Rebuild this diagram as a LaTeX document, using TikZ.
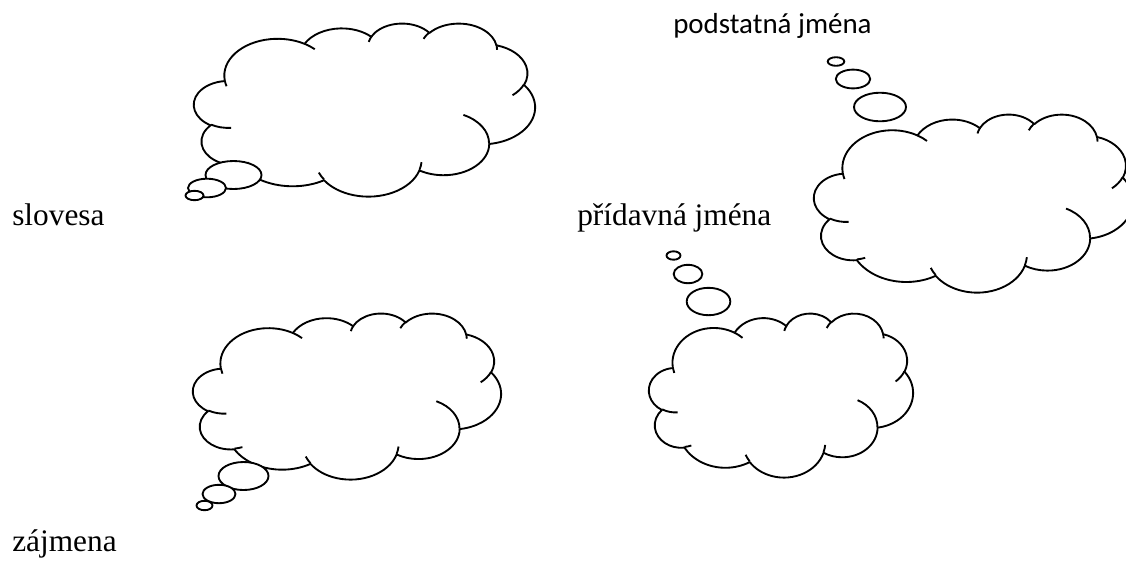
\documentclass[tikz,border=0pt]{standalone}
\usepackage{fontspec}
\setmainfont{Liberation Serif}
\newfontfamily\cabfont{Carlito}
% visual angle -> parametric angle for an elliptical arc
\newcommand\cldcalc[4]{%
  \pgfmathsetmacro\cldTa{atan2((#1)*sin(#3),(#2)*cos(#3))}%
  \pgfmathsetmacro\cldTb{atan2((#1)*sin((#3)+(#4)),(#2)*cos((#3)+(#4)))}%
  \pgfmathsetmacro\cldTd{mod(\cldTb-\cldTa+720,360)}%
  \global\let\cldS\cldTa\global\let\cldD\cldTd}
\newcommand\cldarc[4]{\pgfextra{\cldcalc{#1}{#2}{#3}{#4}} arc[x radius=#1, y radius=#2, start angle=\cldS, delta angle=\cldD]}
\newcommand\drawcloud{%
  \filldraw[cloudline] (39.00,143.70)
    \cldarc{67.53}{91.90}{-190.4875}{123.7805}
    \cldarc{53.33}{72.67}{-144.1024}{89.9452}
    \cldarc{43.65}{59.45}{-145.8079}{99.7230}
    \cldarc{48.57}{65.95}{-130.9861}{117.2417}
    \cldarc{53.33}{72.73}{-78.7089}{109.0269}
    \cldarc{67.75}{92.20}{-46.2673}{130.2690}
    \cldarc{57.85}{78.67}{0.6250}{114.0333}
    \cldarc{67.52}{92.15}{22.4516}{115.1726}
    \cldarc{77.20}{105.43}{66.2426}{75.7110}
    \cldarc{43.60}{59.18}{-274.9421}{146.7356}
    \cldarc{43.45}{59.45}{-246.8285}{152.5189}
    -- cycle;
  \draw[cloudline]
    (46.93,261.77) \cldarc{43.45}{59.45}{86.7420}{26.4295}
    (69.28,348.99) \cldarc{43.60}{59.18}{73.6105}{11.4475}
    (164.78,390.90) \cldarc{67.52}{92.15}{137.6242}{14.0811}
    (288.27,347.51) \cldarc{67.52}{92.15}{6.4533}{15.9984}
    (341.29,229.54) \cldarc{57.85}{78.67}{-70.2924}{70.9174}
    (417.98,153.54) \cldarc{53.33}{72.73}{30.3180}{27.7515}
    (383.24,54.26) \cldarc{48.57}{65.95}{-13.7443}{14.8589}
    (290.78,39.52) \cldarc{48.57}{65.95}{-149.1815}{18.1954}
    (221.41,47.20) \cldarc{43.65}{59.45}{-163.4943}{17.6864}
    (140.00,51.92) \cldarc{67.53}{91.90}{-66.7070}{12.3194}
    (41.27,157.89) \cldarc{67.53}{91.90}{157.6544}{11.8582};
}
\tikzset{
  cloudline/.style={draw=black, fill=white, line width=1.4pt, line join=round},
  bubble/.style={draw=black, fill=white, line width=1.4pt},
  serlbl/.style={inner sep=0pt, anchor=base west, font=\fontsize{23.5pt}{28pt}\selectfont},
  sanlbl/.style={inner sep=0pt, anchor=base west, font=\cabfont\fontsize{21.7pt}{26pt}\selectfont}
}
\begin{document}
\begin{tikzpicture}[x=0.75pt, y=-0.75pt]
\useasboundingbox (0,0) rectangle (1126,562);
\fill[white] (0,0) rectangle (1126,562);
\clip (0,0) rectangle (1126,562);

% cloud 1 (top left)
\begin{scope}[shift={(194,23)}, x=0.59201pt, y=-0.30035pt]
  \drawcloud
\end{scope}
\draw[bubble] (233.5,175) ellipse [x radius=28, y radius=14];
\draw[bubble] (207,188) ellipse [x radius=19, y radius=9.3];
\draw[bubble] (194.5,195.5) ellipse [x radius=9, y radius=4.7];

% cloud 2 (top right)
\begin{scope}[shift={(814,114)}, x=0.55382pt, y=-0.30903pt]
  \drawcloud
\end{scope}
\draw[bubble] (880,107) ellipse [x radius=26, y radius=14.3];
\draw[bubble] (853,79) ellipse [x radius=17.2, y radius=9.4];
\draw[bubble] (836,61.5) ellipse [x radius=8.3, y radius=4.3];

% cloud 3 (bottom left)
\begin{scope}[shift={(193,313)}, x=0.53472pt, y=-0.28819pt]
  \drawcloud
\end{scope}
\draw[bubble] (243.5,476) ellipse [x radius=25, y radius=14];
\draw[bubble] (219,494) ellipse [x radius=16.5, y radius=9.2];
\draw[bubble] (204.5,505.5) ellipse [x radius=8, y radius=4.7];

% cloud 4 (bottom right)
\begin{scope}[shift={(649,313)}, x=0.45833pt, y=-0.28472pt]
  \drawcloud
\end{scope}
\draw[bubble] (708.5,301.5) ellipse [x radius=21.8, y radius=13.7];
\draw[bubble] (688,274) ellipse [x radius=14.3, y radius=9.2];
\draw[bubble] (673.5,255.5) ellipse [x radius=7, y radius=4.2];

% labels
\node[serlbl] (slovesa) at (12,225) {slovesa};
\node[serlbl] (pridavna) at (577,225) {přídavná jména};
\node[serlbl] (zajmena) at (12,551) {zájmena};
\node[sanlbl] (podstatna) at (673,33) {podstatná jména};
\end{tikzpicture}
\end{document}
